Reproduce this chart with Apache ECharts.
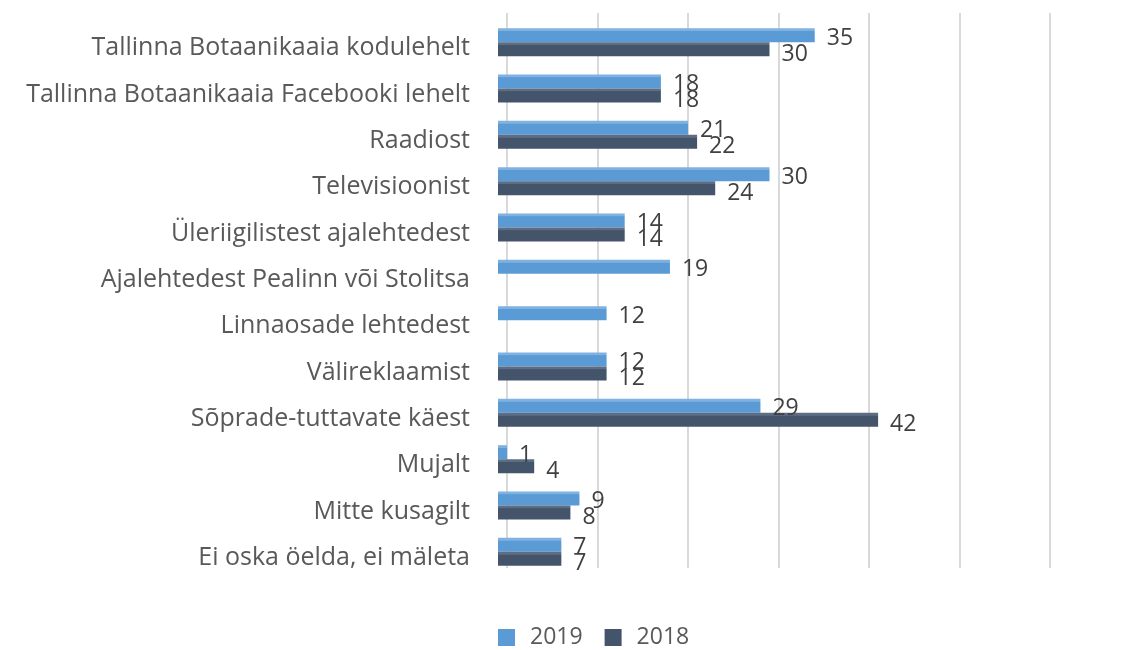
<!DOCTYPE html>
<html>
<head>
<meta charset="utf-8">
<script src="https://cdn.jsdelivr.net/npm/echarts@6/dist/echarts.min.js"></script>
<style>
  html, body { margin: 0; padding: 0; background: #fff; }
  #chart { width: 1121px; height: 650px; }
</style>
</head>
<body>
<div id="chart"></div>
<script>
// rows top to bottom
const categories = [
  'Tallinna Botaanikaaia kodulehelt',
  'Tallinna Botaanikaaia Facebooki lehelt',
  'Raadiost',
  'Televisioonist',
  'Üleriigilistest ajalehtedest',
  'Ajalehtedest Pealinn või Stolitsa',
  'Linnaosade lehtedest',
  'Välireklaamist',
  'Sõprade-tuttavate käest',
  'Mujalt',
  'Mitte kusagilt',
  'Ei oska öelda, ei mäleta',
];
const values2019 = [35, 18, 21, 30, 14, 19, 12, 12, 29, 1, 9, 7];
const values2018 = [30, 18, 22, 24, 14, null, null, 12, 42, 4, 8, 7];
const xTicks = [0, 10, 20, 30, 40, 50, 60];

const FONT = '"Open Sans", sans-serif';
const C2019 = '#5b9bd5';
const C2018 = '#44546a';
const PX_PER_UNIT = 9.05;
const xMax = xTicks[xTicks.length - 1];

// lighter strip on top imitates the 3D top face of the bars
function face(base, top) {
  return new echarts.graphic.LinearGradient(0, 0, 0, 1, [
    { offset: 0, color: top },
    { offset: 0.18, color: top },
    { offset: 0.22, color: base },
    { offset: 1, color: base },
  ]);
}

const chart = echarts.init(document.getElementById('chart'));

chart.setOption({
  backgroundColor: '#fff',
  animation: false,
  legend: {
    top: 621,
    left: 493,
    icon: 'rect',
    itemWidth: 17,
    itemHeight: 17,
    itemGap: 22,
    data: [
      { name: '2019', itemStyle: { color: C2019 } },
      { name: '2018', itemStyle: { color: C2018 } },
    ],
    formatter: '{t|{name}}',
    textStyle: {
      rich: { t: { fontFamily: FONT, fontSize: 23, color: '#595959', padding: [0, 0, 0, 10] } },
    },
  },
  grid: [
    // bars
    { left: 498, top: 19, width: xMax * PX_PER_UNIT, height: 556, containLabel: false },
    // back wall gridlines, shifted for the 3D look
    { left: 507, top: 13, width: xMax * PX_PER_UNIT, height: 555, containLabel: false },
  ],
  xAxis: [
    {
      gridIndex: 0, type: 'value', min: xTicks[0], max: xMax, interval: 10,
      axisLine: { show: false }, axisTick: { show: false }, axisLabel: { show: false },
      splitLine: { show: false },
    },
    {
      gridIndex: 1, type: 'value', min: xTicks[0], max: xMax, interval: 10,
      axisLine: { show: false }, axisTick: { show: false }, axisLabel: { show: false },
      splitLine: { lineStyle: { color: '#d9d9d9', width: 2 } },
    },
  ],
  yAxis: [
    {
      gridIndex: 0, type: 'category', data: categories, inverse: true,
      axisLine: { show: false }, axisTick: { show: false },
      axisLabel: {
        margin: 28,
        formatter: (v) => '{t|' + v + '}',
        rich: {
          // top padding pushes the text a little below the row centre
          t: { fontFamily: FONT, fontSize: 25, color: '#595959', padding: [12, 0, 0, 0] },
        },
      },
    },
    {
      gridIndex: 1, type: 'category', data: categories, inverse: true, show: false,
    },
  ],
  series: [
    {
      name: '2019', type: 'bar', data: values2019,
      barWidth: 14, barGap: '0%',
      itemStyle: { color: face(C2019, '#7fb2e0') },
      label: {
        show: true, position: 'right', distance: 12, offset: [0, 3],
        fontFamily: FONT, fontSize: 23, color: '#404040',
      },
      z: 3,
    },
    {
      name: '2018', type: 'bar', data: values2018,
      barWidth: 14, barGap: '0%',
      itemStyle: { color: face(C2018, '#5d6d84') },
      label: {
        show: true, position: 'right', distance: 12, offset: [0, 5],
        fontFamily: FONT, fontSize: 23, color: '#404040',
      },
      z: 3,
    },
  ],
});
</script>
</body>
</html>
